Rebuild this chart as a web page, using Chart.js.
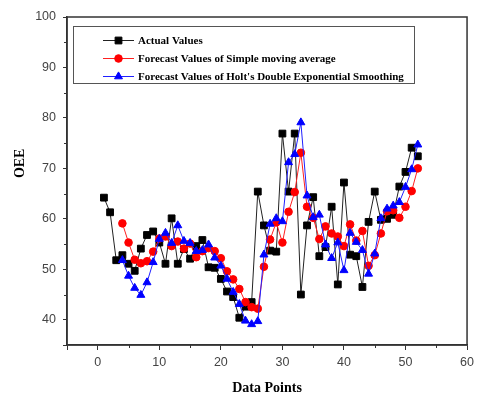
<!DOCTYPE html>
<html>
<head>
<meta charset="utf-8">
<script src="https://cdn.jsdelivr.net/npm/chart.js@4.4.1/dist/chart.umd.min.js"></script>
<style>
  html, body { margin: 0; padding: 0; background: #fff; }
  #wrap { width: 479px; height: 399px; }
</style>
</head>
<body>
<div id="wrap"><canvas id="oeeChart" width="479" height="399"></canvas></div>
<script>
// data point index 1..52
const dataPoints = [1, 2, 3, 4, 5, 6, 7, 8, 9, 10, 11, 12, 13, 14, 15, 16, 17, 18, 19, 20,
  21, 22, 23, 24, 25, 26, 27, 28, 29, 30, 31, 32, 33, 34, 35, 36, 37, 38, 39, 40,
  41, 42, 43, 44, 45, 46, 47, 48, 49, 50, 51, 52];

const actualValues = [64.2, 61.3, 51.8, 52.8, 51.1, 49.7, 54.1, 56.8, 57.5, 55.3,
  51.1, 60.1, 51.1, 54.0, 52.1, 54.6, 55.8, 50.4, 50.3, 48.1,
  45.6, 44.5, 40.4, 42.6, 43.5, 65.4, 58.7, 53.7, 53.5, 76.9,
  65.4, 76.9, 45.0, 58.7, 64.3, 52.6, 54.4, 62.4, 47.0, 67.2,
  52.9, 52.6, 46.5, 59.4, 65.4, 59.8, 60.0, 60.8, 66.4, 69.3,
  74.1, 72.4];

// forecasts start at point 4
const smaValues = [null, null, null, 59.1, 55.3, 51.9, 51.2, 51.6, 53.5, 56.1,
  56.5, 54.6, 55.5, 54.1, 55.1, 52.4, 53.6, 54.2, 53.6, 52.2,
  49.6, 48.0, 46.1, 43.5, 42.5, 42.2, 50.5, 55.9, 59.3, 55.3,
  61.4, 65.3, 73.1, 62.4, 60.2, 56.0, 58.5, 57.1, 56.5, 54.6,
  58.9, 55.7, 57.6, 50.7, 52.8, 57.1, 61.5, 61.7, 60.2, 62.4,
  65.5, 70.0];

const holtValues = [null, null, null, 51.8, 48.7, 46.3, 44.9, 47.4, 51.4, 56.0,
  57.2, 55.2, 58.7, 55.6, 55.2, 53.6, 53.8, 54.9, 52.3, 50.7,
  48.1, 45.5, 43.1, 39.8, 39.1, 39.7, 52.9, 59.0, 60.1, 59.5,
  71.2, 72.8, 79.1, 64.6, 60.3, 60.8, 54.9, 52.2, 55.3, 49.8,
  57.2, 55.4, 53.8, 49.1, 53.1, 60.1, 62.0, 62.6, 63.3, 66.3,
  69.8, 74.7];

const seriesNames = [
  'Actual Values',
  'Forecast Values of Simple moving average',
  "Forecast Values of Holt's Double Exponential Smoothing"
];

const xMinorTicks = [5, 15, 25, 35, 45, 55];
const yMinorTicks = [45, 55, 65, 75, 85, 95];

const toXY = (vals) => dataPoints.map((x, i) => ({ x: x, y: vals[i] }));

const axisColor = '#333';
const tickFont = { family: "'Liberation Sans', Arial, sans-serif", size: 12.5 };
const titleFont = { family: "'Liberation Serif', 'Times New Roman', serif", size: 14, weight: 'bold' };

// box around the plot + minor tick marks + the OEE label
const framePlugin = {
  id: 'frame',
  beforeDatasetsDraw(chart) {
    const { ctx, chartArea: a } = chart;
    ctx.save();
    ctx.strokeStyle = axisColor;
    ctx.lineWidth = 1.5;
    ctx.strokeRect(a.left, a.top, a.right - a.left, a.bottom - a.top);
    ctx.lineWidth = 1;
    ctx.beginPath();
    xMinorTicks.forEach((v) => {
      const px = Math.round(chart.scales.x.getPixelForValue(v)) + 0.5;
      ctx.moveTo(px, a.bottom);
      ctx.lineTo(px, a.bottom + 3);
    });
    yMinorTicks.forEach((v) => {
      const py = Math.round(chart.scales.y.getPixelForValue(v)) + 0.5;
      ctx.moveTo(a.left, py);
      ctx.lineTo(a.left - 3, py);
    });
    ctx.stroke();

    // y axis title sits a bit above the middle of the axis
    ctx.translate(20, chart.scales.y.getPixelForValue(71));
    ctx.rotate(-Math.PI / 2);
    ctx.fillStyle = '#000';
    ctx.font = "bold 14px 'Liberation Serif', 'Times New Roman', serif";
    ctx.textAlign = 'center';
    ctx.textBaseline = 'middle';
    ctx.fillText('OEE', 0, 0);
    ctx.restore();
  }
};

// legend drawn as a boxed list inside the plot, line sample with marker
const boxLegend = {
  id: 'boxLegend',
  afterDatasetsDraw(chart) {
    const ctx = chart.ctx;
    const left = 73.5, top = 26.5, w = 341, h = 57;
    const rows = [40.5, 58.5, 76.5];
    ctx.save();
    ctx.fillStyle = '#fff';
    ctx.fillRect(left, top, w, h);
    ctx.strokeStyle = '#555';
    ctx.lineWidth = 1;
    ctx.strokeRect(left, top, w, h);
    seriesNames.forEach((name, i) => {
      const ds = chart.data.datasets[i];
      const y = rows[i];
      ctx.strokeStyle = ds.borderColor;
      ctx.lineWidth = 1;
      ctx.beginPath();
      ctx.moveTo(103, y);
      ctx.lineTo(134, y);
      ctx.stroke();
      ctx.fillStyle = ds.pointBackgroundColor;
      ctx.strokeStyle = ds.pointBackgroundColor;
      Chart.helpers.drawPoint(ctx, {
        pointStyle: ds.pointStyle,
        radius: ds.pointRadius,
        rotation: 0,
        borderWidth: 1
      }, 118.5, y);
      ctx.fillStyle = '#000';
      ctx.font = "bold 11px 'Liberation Serif', 'Times New Roman', serif";
      ctx.textBaseline = 'middle';
      ctx.textAlign = 'left';
      ctx.fillText(name, 138, y + 0.5);
    });
    ctx.restore();
  }
};

const ctx = document.getElementById('oeeChart').getContext('2d');
new Chart(ctx, {
  type: 'line',
  data: {
    datasets: [
      {
        label: seriesNames[0],
        data: toXY(actualValues),
        borderColor: '#222',
        borderWidth: 1,
        pointStyle: 'rect',
        pointRadius: 4.8,
        pointBackgroundColor: '#000',
        pointBorderColor: '#000',
        order: 2
      },
      {
        label: seriesNames[1],
        data: toXY(smaValues),
        borderColor: '#ff2020',
        borderWidth: 1,
        pointStyle: 'circle',
        pointRadius: 3.8,
        pointBackgroundColor: '#ff0000',
        pointBorderColor: '#ff0000',
        order: 1
      },
      {
        label: seriesNames[2],
        data: toXY(holtValues),
        borderColor: '#2020ff',
        borderWidth: 1,
        pointStyle: 'triangle',
        pointRadius: 4.6,
        pointBackgroundColor: '#0000ff',
        pointBorderColor: '#0000ff',
        order: 0
      }
    ]
  },
  options: {
    responsive: false,
    animation: false,
    layout: { padding: { top: 17, right: 6, left: 0, bottom: 0 } },
    plugins: {
      legend: { display: false },
      tooltip: { enabled: false }
    },
    scales: {
      x: {
        type: 'linear',
        min: -5,
        max: 60,
        afterFit: (scale) => { scale.height = 54; },
        ticks: {
          stepSize: 10,
          padding: 5,
          color: '#444',
          font: tickFont,
          callback: (v) => (v >= 0 ? v : '')
        },
        grid: { drawOnChartArea: false, drawTicks: true, tickLength: 5, color: axisColor },
        border: { color: axisColor, width: 1.5 },
        title: {
          display: true,
          text: 'Data Points',
          color: '#000',
          font: titleFont,
          padding: { top: 0, bottom: 2 }
        }
      },
      y: {
        min: 35,
        max: 100,
        afterFit: (scale) => { scale.width = 67; },
        ticks: {
          stepSize: 10,
          padding: 7,
          color: '#444',
          font: tickFont,
          callback: (v) => (v >= 40 ? v : '')
        },
        grid: { drawOnChartArea: false, drawTicks: true, tickLength: 4, color: axisColor },
        border: { color: axisColor, width: 1.5 }
      }
    }
  },
  plugins: [framePlugin, boxLegend]
});
</script>
</body>
</html>
